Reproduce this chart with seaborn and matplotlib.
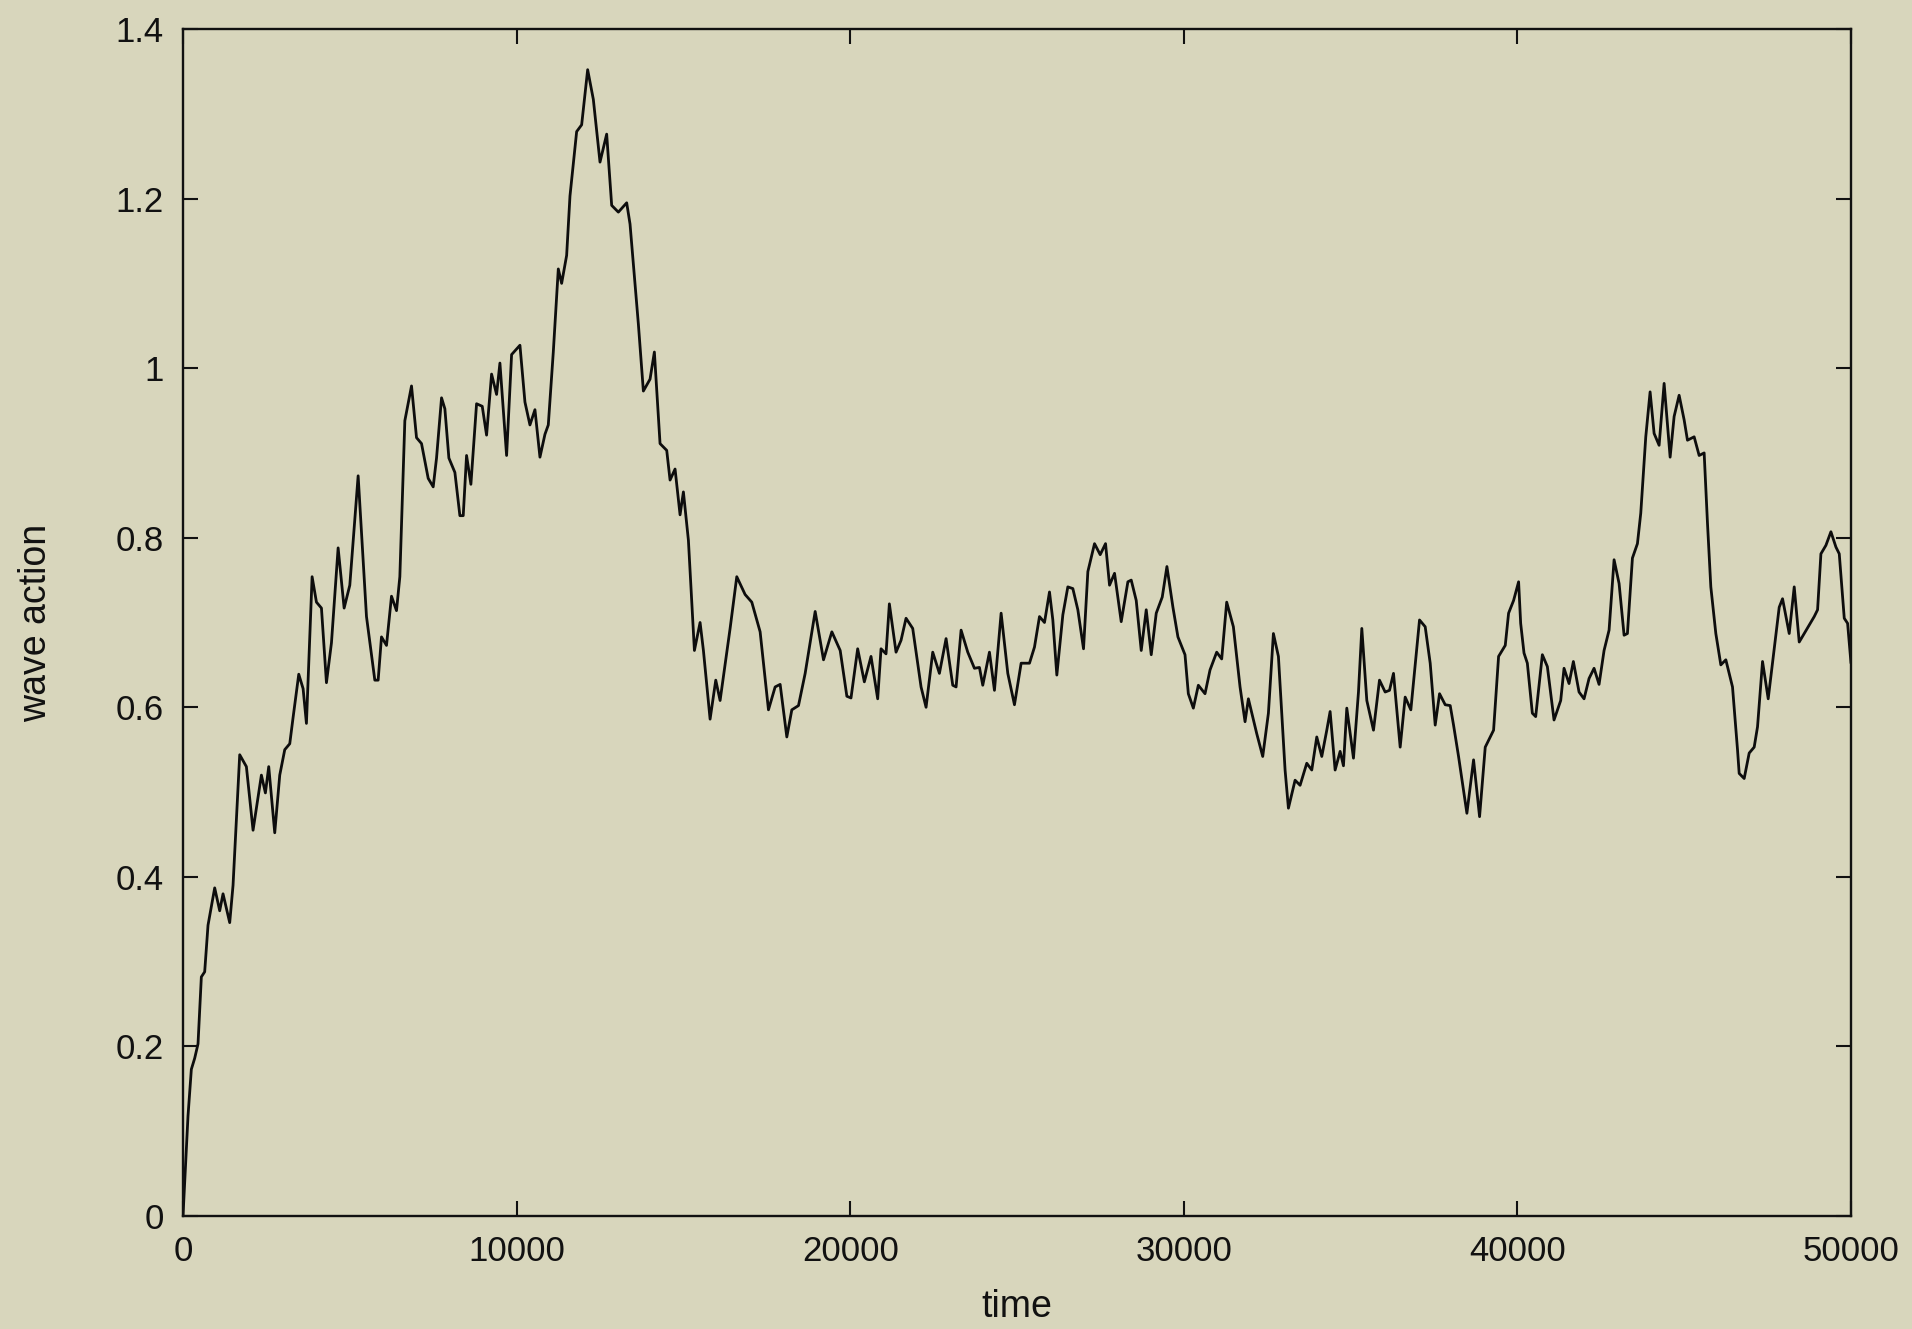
import matplotlib
matplotlib.use("Agg")
import matplotlib.pyplot as plt
import seaborn as sns
import pandas as pd

time_points = [
    0, 150, 250, 350, 450, 550, 650, 750, 950, 1100, 1200, 1400, 1500, 1700, 1900,
    2100, 2350, 2470, 2570, 2750, 2900, 3050, 3200, 3300, 3470, 3600, 3700, 3870,
    4000, 4150, 4300, 4450, 4650, 4830, 5000, 5250, 5500, 5750, 5850, 5950, 6100,
    6250, 6400, 6500, 6650, 6850, 7000, 7150, 7350, 7500, 7600, 7750, 7850, 7970,
    8150, 8300, 8400, 8500, 8630, 8800, 8970, 9100, 9250, 9400, 9500, 9700, 9850,
    10100, 10250, 10400, 10550, 10700, 10850, 10950, 11100, 11250, 11350, 11500,
    11600, 11800, 11950, 12130, 12300, 12500, 12700, 12850, 13050, 13300, 13400,
    13650, 13800, 14000, 14130, 14300, 14500, 14600, 14750, 14900, 15000, 15150,
    15330, 15500, 15600, 15800, 15970, 16100, 16400, 16600, 16850, 17050, 17300,
    17550, 17750, 17900, 18100, 18250, 18450, 18650, 18950, 19200, 19450, 19700,
    19900, 20024, 20224, 20424, 20624, 20824, 20924, 21074, 21174, 21374, 21524,
    21674, 21874, 22124, 22274, 22474, 22674, 22874, 23074, 23174, 23324, 23524,
    23724, 23874, 23974, 24174, 24324, 24524, 24724, 24924, 25124, 25374, 25524,
    25674, 25824, 25974, 26074, 26194, 26374, 26524, 26674, 26824, 26994, 27124,
    27324, 27494, 27654, 27774, 27924, 28124, 28324, 28424, 28574, 28724, 28874,
    29024, 29174, 29354, 29494, 29674, 29824, 30036, 30136, 30286, 30436, 30636,
    30786, 30986, 31136, 31286, 31486, 31686, 31836, 31936, 32186, 32366, 32536,
    32686, 32836, 33036, 33136, 33336, 33486, 33686, 33836, 33986, 34136, 34286,
    34386, 34536, 34686, 34786, 34886, 35086, 35236, 35336, 35486, 35686, 35866,
    36036, 36166, 36286, 36486, 36636, 36806, 37066, 37236, 37386, 37536, 37666,
    37836, 37986, 38086, 38236, 38486, 38686, 38866, 39036, 39286, 39436, 39636,
    39736, 39886, 40036, 40098, 40198, 40298, 40448, 40548, 40748, 40898, 41098,
    41298, 41398, 41548, 41678, 41848, 41998, 42148, 42298, 42448, 42598, 42748,
    42898, 43048, 43198, 43298, 43448, 43598, 43698, 43848, 43978, 44098, 44248,
    44398, 44578, 44698, 44848, 44998, 45098, 45298, 45448, 45598, 45698, 45798,
    45948, 46098, 46248, 46448, 46598, 46648, 46798, 46948, 47098, 47198, 47348,
    47518, 47678, 47848, 47948, 48148, 48298, 48448, 48598, 48748, 48898, 48998,
    49098, 49248, 49398, 49548, 49648, 49798, 49898, 50000,
]

wave_action = [
    0.000, 0.118, 0.173, 0.186, 0.203, 0.282, 0.288, 0.343, 0.387, 0.360, 0.380,
    0.346, 0.390, 0.544, 0.530, 0.455, 0.520, 0.499, 0.530, 0.452, 0.520, 0.550,
    0.557, 0.588, 0.639, 0.622, 0.581, 0.754, 0.724, 0.717, 0.629, 0.676, 0.788,
    0.717, 0.744, 0.873, 0.707, 0.632, 0.632, 0.683, 0.673, 0.731, 0.714, 0.754,
    0.938, 0.979, 0.918, 0.911, 0.870, 0.860, 0.894, 0.965, 0.952, 0.894, 0.877,
    0.826, 0.826, 0.897, 0.863, 0.958, 0.955, 0.921, 0.993, 0.969, 1.006, 0.897,
    1.016, 1.027, 0.960, 0.933, 0.951, 0.895, 0.922, 0.933, 1.019, 1.117, 1.100,
    1.133, 1.203, 1.279, 1.287, 1.352, 1.317, 1.243, 1.276, 1.192, 1.184, 1.195,
    1.170, 1.052, 0.973, 0.987, 1.019, 0.911, 0.903, 0.868, 0.881, 0.827, 0.854,
    0.797, 0.667, 0.700, 0.667, 0.586, 0.632, 0.608, 0.693, 0.754, 0.733, 0.724,
    0.689, 0.597, 0.624, 0.627, 0.565, 0.597, 0.602, 0.640, 0.713, 0.656, 0.689,
    0.667, 0.613, 0.611, 0.669, 0.630, 0.660, 0.610, 0.669, 0.663, 0.722, 0.665,
    0.679, 0.705, 0.693, 0.624, 0.600, 0.665, 0.640, 0.681, 0.626, 0.624, 0.691,
    0.665, 0.646, 0.647, 0.626, 0.665, 0.620, 0.711, 0.640, 0.603, 0.652, 0.652,
    0.671, 0.707, 0.700, 0.736, 0.703, 0.638, 0.709, 0.742, 0.740, 0.715, 0.669,
    0.760, 0.793, 0.780, 0.793, 0.744, 0.758, 0.701, 0.748, 0.750, 0.726, 0.667,
    0.715, 0.662, 0.711, 0.730, 0.766, 0.718, 0.683, 0.662, 0.616, 0.599, 0.626,
    0.616, 0.644, 0.665, 0.657, 0.724, 0.695, 0.624, 0.583, 0.610, 0.569, 0.542,
    0.593, 0.687, 0.660, 0.526, 0.481, 0.514, 0.508, 0.534, 0.526, 0.565, 0.542,
    0.573, 0.595, 0.526, 0.548, 0.531, 0.599, 0.540, 0.618, 0.693, 0.608, 0.573,
    0.632, 0.618, 0.620, 0.640, 0.553, 0.612, 0.597, 0.703, 0.695, 0.652, 0.579,
    0.616, 0.603, 0.602, 0.579, 0.542, 0.475, 0.538, 0.471, 0.553, 0.573, 0.660,
    0.673, 0.711, 0.726, 0.748, 0.699, 0.664, 0.652, 0.593, 0.589, 0.662, 0.648,
    0.585, 0.608, 0.646, 0.628, 0.654, 0.618, 0.610, 0.634, 0.646, 0.627, 0.667,
    0.691, 0.774, 0.746, 0.685, 0.687, 0.776, 0.793, 0.829, 0.919, 0.972, 0.923,
    0.909, 0.982, 0.895, 0.943, 0.968, 0.939, 0.915, 0.919, 0.897, 0.900, 0.817,
    0.742, 0.687, 0.650, 0.656, 0.624, 0.550, 0.522, 0.516, 0.546, 0.553, 0.577,
    0.654, 0.610, 0.662, 0.718, 0.728, 0.687, 0.742, 0.677, 0.687, 0.697, 0.707,
    0.715, 0.781, 0.791, 0.807, 0.789, 0.781, 0.705, 0.699, 0.652,
]

x_ticks = [0, 10000, 20000, 30000, 40000, 50000]
x_tick_labels = ["0", "10000", "20000", "30000", "40000", "50000"]
y_ticks = [0, 0.2, 0.4, 0.6, 0.8, 1.0, 1.2, 1.4]
y_tick_labels = ["0", "0.2", "0.4", "0.6", "0.8", "1", "1.2", "1.4"]

bg = "#d8d6bc"

sns.set_theme(style="ticks")
plt.rcParams["font.family"] = ["Liberation Sans", "DejaVu Sans"]

df = pd.DataFrame({"time": time_points, "wave action": wave_action})

fig = plt.figure(figsize=(19.12, 13.29), dpi=100, facecolor=bg)
ax = fig.add_axes([183 / 1912, 1 - 1216 / 1329, (1851 - 183) / 1912, (1216 - 29) / 1329])
ax.set_facecolor(bg)

sns.lineplot(data=df, x="time", y="wave action", ax=ax, color="#0d0d0d",
             linewidth=2.0, estimator=None, sort=False)

ax.set_xlim(0, 50000)
ax.set_ylim(0, 1.4)
ax.set_xticks(x_ticks)
ax.set_xticklabels(x_tick_labels)
ax.set_yticks(y_ticks)
ax.set_yticklabels(y_tick_labels)

for s in ax.spines.values():
    s.set_visible(True)
    s.set_color("#111111")
    s.set_linewidth(1.7)

ax.tick_params(axis="both", which="major", direction="in", length=11, width=1.5,
               color="#111111", labelsize=25, labelcolor="#111111",
               top=True, right=True, pad=14)

ax.set_xlabel("time", fontsize=27, color="#111111", labelpad=15)
ax.set_ylabel("wave action", fontsize=27, color="#111111", labelpad=44)
ax.grid(False)

fig.savefig("out.png", dpi=100, facecolor=bg)
